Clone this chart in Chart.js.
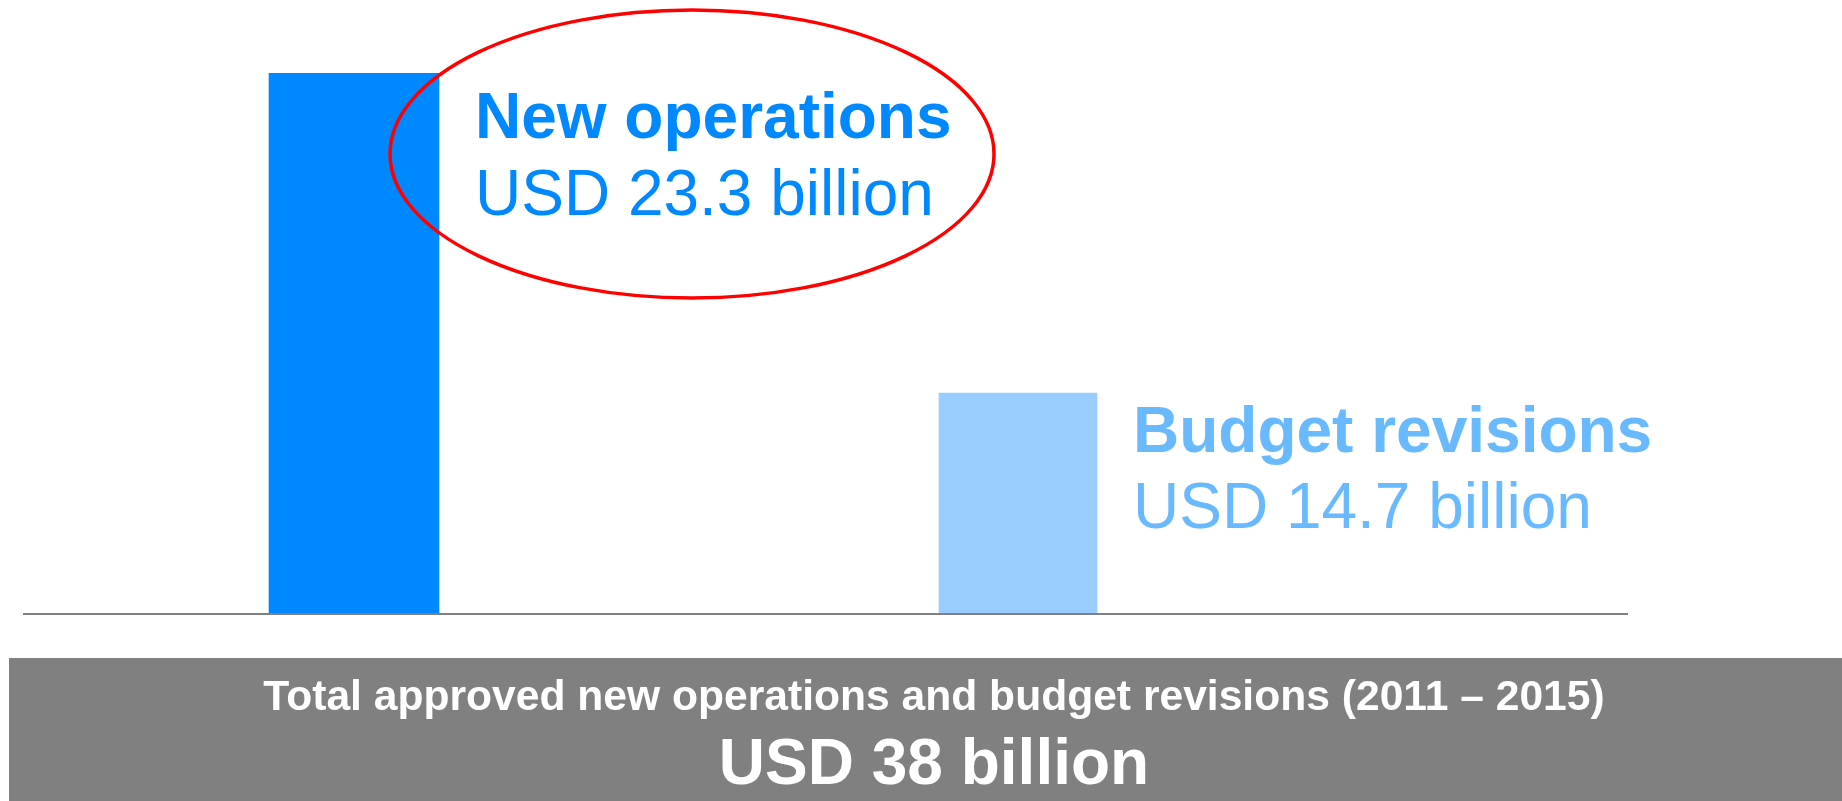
<!DOCTYPE html>
<html>
<head>
<meta charset="utf-8">
<script src="https://cdn.jsdelivr.net/npm/chart.js@4.4.1/dist/chart.umd.min.js"></script>
<style>
  html, body { margin: 0; padding: 0; background: #ffffff; overflow: hidden; }
  #wrap { position: relative; width: 1842px; height: 801px; }
</style>
</head>
<body>
<div id="wrap"><canvas id="chart" width="1842" height="801"></canvas></div>
<script>
// Approved operations 2011–2015, billions of USD
const categories = ['New operations', 'Budget revisions'];
const valuesBillionUSD = [23.3, 14.7];
const valueLabels = ['USD 23.3 billion', 'USD 14.7 billion'];
const totalTitle = 'Total approved new operations and budget revisions (2011 – 2015)';
const totalLabel = 'USD 38 billion';

const barColors = ['#0088FF', '#99CDFF'];
const textColors = ['#0088FF', '#69B9FF'];
const FONT = '"Liberation Sans", Arial, Helvetica, sans-serif';

// Baseline, captions beside each bar, highlight ring and the total banner
const decorations = {
  id: 'decorations',
  afterDatasetsDraw(chart, args, opts) {
    const { ctx, chartArea } = chart;
    ctx.save();

    // baseline
    ctx.strokeStyle = '#808080';
    ctx.lineWidth = 2;
    ctx.beginPath();
    ctx.moveTo(chartArea.left, chartArea.bottom);
    ctx.lineTo(chartArea.right, chartArea.bottom);
    ctx.stroke();

    // captions to the right of each bar
    chart.data.datasets.forEach((ds, i) => {
      const el = chart.getDatasetMeta(i).data[0];
      if (!el) return;
      const x = el.x + el.width / 2 + 36;
      ctx.fillStyle = textColors[i];
      ctx.textAlign = 'left';
      ctx.textBaseline = 'alphabetic';
      ctx.font = 'bold 64px ' + FONT;
      ctx.fillText(categories[i], x, el.y + opts.titleOffset[i]);
      ctx.font = '64px ' + FONT;
      ctx.fillText(valueLabels[i], x, el.y + opts.valueOffset[i]);
    });

    // red ring around the first caption
    ctx.strokeStyle = '#FF0000';
    ctx.lineWidth = 3.5;
    ctx.beginPath();
    ctx.ellipse(692, 154, 302, 144, 0, 0, Math.PI * 2);
    ctx.stroke();

    // total banner
    ctx.fillStyle = '#808080';
    ctx.fillRect(9, 658, chart.width - 9, chart.height - 658);
    ctx.fillStyle = '#FFFFFF';
    ctx.textAlign = 'center';
    ctx.font = 'bold 42.6px ' + FONT;
    ctx.fillText(totalTitle, 934, 710);
    ctx.font = 'bold 64px ' + FONT;
    ctx.fillText(totalLabel, 934, 784);

    ctx.restore();
  }
};

new Chart(document.getElementById('chart'), {
  type: 'bar',
  data: {
    datasets: [
      {
        label: categories[0],
        data: [{ x: 0, y: valuesBillionUSD[0] }],
        backgroundColor: barColors[0],
        barThickness: 170,
        yAxisID: 'y'
      },
      {
        label: categories[1],
        data: [{ x: 1, y: valuesBillionUSD[1] }],
        backgroundColor: barColors[1],
        barThickness: 158,
        yAxisID: 'y2'
      }
    ]
  },
  options: {
    responsive: false,
    animation: false,
    devicePixelRatio: 1,
    grouped: false,
    layout: { padding: { left: 23, right: 214, top: 73, bottom: 187 } },
    scales: {
      x: { type: 'linear', offset: false, min: -0.4985, max: 1.9187, display: false },
      y: { min: 0, max: 23.3, display: false },
      y2: { min: 0, max: 36, display: false }
    },
    plugins: {
      legend: { display: false },
      tooltip: { enabled: false },
      decorations: { titleOffset: [65, 59], valueOffset: [142, 135] }
    }
  },
  plugins: [decorations]
});
</script>
</body>
</html>
